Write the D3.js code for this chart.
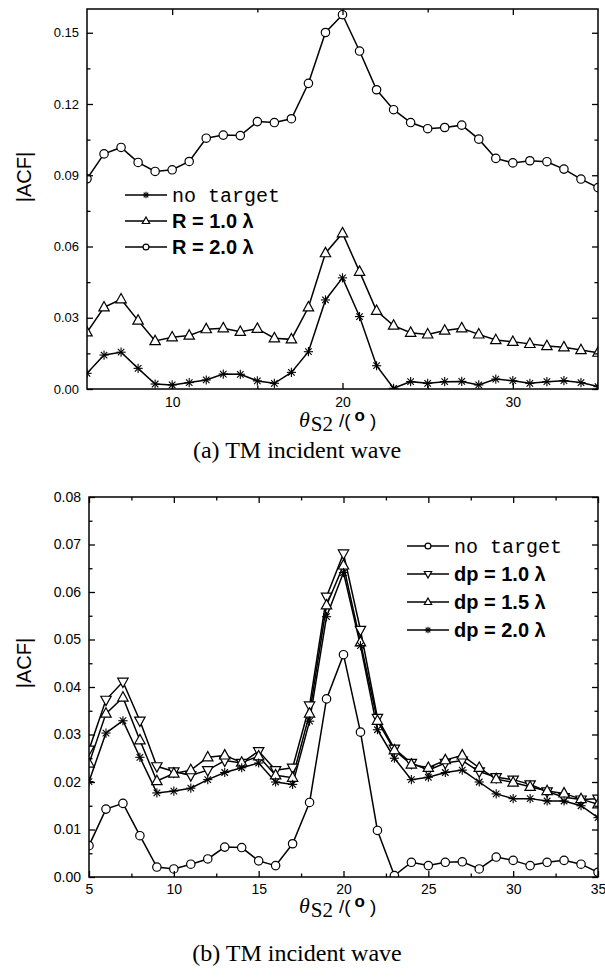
<!DOCTYPE html>
<html>
<head>
<meta charset="utf-8">
<script src="https://cdn.jsdelivr.net/npm/d3@7"></script>
<style>
  body { margin: 0; background: #fff; }
  svg { display: block; }
</style>
</head>
<body>
<div id="chart"></div>
<script>
// scattering angle, degrees
const thetaS2 = [5, 6, 7, 8, 9, 10, 11, 12, 13, 14, 15, 16, 17, 18, 19, 20,
                 21, 22, 23, 24, 25, 26, 27, 28, 29, 30, 31, 32, 33, 34, 35];

// (a) TM incident wave
const noTarget = [0.0066, 0.0143, 0.0155, 0.0087, 0.0021, 0.0017, 0.0027, 0.0038, 0.0063, 0.0062, 0.0034,
                  0.0024, 0.0070, 0.0157, 0.0375, 0.0468, 0.0305, 0.0098, 0.0003, 0.0031, 0.0024, 0.0031,
                  0.0032, 0.0017, 0.0042, 0.0035, 0.0024, 0.0031, 0.0035, 0.0027, 0.0010];
const r10 = [0.0239, 0.0344, 0.0378, 0.0288, 0.0202, 0.0218, 0.0225, 0.0252, 0.0256, 0.0241, 0.0254,
             0.0214, 0.0209, 0.0344, 0.0572, 0.0656, 0.0494, 0.0329, 0.0267, 0.0237, 0.0230, 0.0246,
             0.0256, 0.0230, 0.0206, 0.0199, 0.0190, 0.0181, 0.0176, 0.0164, 0.0153];
const r20 = [0.0885, 0.0990, 0.1017, 0.0954, 0.0916, 0.0923, 0.0958, 0.1056, 0.1069, 0.1067, 0.1126,
             0.1122, 0.1138, 0.1287, 0.1501, 0.1576, 0.1423, 0.1260, 0.1176, 0.1122, 0.1096, 0.1101,
             0.1111, 0.1052, 0.0971, 0.0952, 0.0961, 0.0957, 0.0926, 0.0884, 0.0848];

// (b) TM incident wave
const noTargetB = noTarget;
const dp10 = [0.0268, 0.0373, 0.0411, 0.0329, 0.0233, 0.0222, 0.0214, 0.0225, 0.0245, 0.0240, 0.0265,
              0.0225, 0.0230, 0.0361, 0.0590, 0.0681, 0.0520, 0.0335, 0.0270, 0.0240, 0.0225, 0.0240,
              0.0245, 0.0222, 0.0210, 0.0205, 0.0195, 0.0180, 0.0168, 0.0163, 0.0165];
const dp15 = r10;
const dp20 = [0.0201, 0.0303, 0.0329, 0.0252, 0.0177, 0.0181, 0.0187, 0.0205, 0.0220, 0.0230, 0.0240,
              0.0200, 0.0195, 0.0328, 0.0548, 0.0641, 0.0487, 0.0310, 0.0250, 0.0205, 0.0210, 0.0220,
              0.0225, 0.0200, 0.0175, 0.0165, 0.0165, 0.0160, 0.0160, 0.0150, 0.0125];

const yTicksA = [0, 0.03, 0.06, 0.09, 0.12, 0.15];
const yMinorA = [0.015, 0.045, 0.075, 0.105, 0.135];
const xTicksA = [10, 20, 30];
const xMinorA = [15, 25];
const yTicksB = [0, 0.01, 0.02, 0.03, 0.04, 0.05, 0.06, 0.07, 0.08];
const yMinorB = [0.005, 0.015, 0.025, 0.035, 0.045, 0.055, 0.065, 0.075];
const xTicksB = [5, 10, 15, 20, 25, 30, 35];
const xMinorB = [7.5, 12.5, 17.5, 22.5, 27.5, 32.5];

const svg = d3.select("#chart").append("svg")
    .attr("width", 605)
    .attr("height", 978);

const SANS = "'Liberation Sans', Arial, sans-serif";
const SERIF = "'Liberation Serif', 'Times New Roman', serif";
const MONO = "'Liberation Mono', 'Courier New', monospace";

function drawMarker(g, type, cx, cy, s) {
    s = s || 1;
    if (type === "circle") {
        g.append("circle").attr("cx", cx).attr("cy", cy).attr("r", 4.2 * s)
            .attr("fill", "#fff").attr("stroke", "#000").attr("stroke-width", 1.2);
    } else if (type === "tri" || type === "triDown") {
        const k = type === "tri" ? 1 : -1;
        const pts = [[0, -5.8 * k], [5.2, 3.6 * k], [-5.2, 3.6 * k]]
            .map(p => [cx + p[0] * s, cy + p[1] * s].join(",")).join(" ");
        g.append("polygon").attr("points", pts)
            .attr("fill", "#fff").attr("stroke", "#000").attr("stroke-width", 1.2);
    } else if (type === "star") {
        const r = 4.6 * s;
        [0, 45, 90, 135].forEach(a => {
            const dx = r * Math.cos(a * Math.PI / 180), dy = r * Math.sin(a * Math.PI / 180);
            g.append("line").attr("x1", cx - dx).attr("y1", cy - dy)
                .attr("x2", cx + dx).attr("y2", cy + dy)
                .attr("stroke", "#000").attr("stroke-width", 1.1);
        });
    }
}

function drawPanel(p) {
    const x = d3.scaleLinear().domain([5, 35]).range([p.left, p.right]);
    const y = d3.scaleLinear().domain([0, p.yMax]).range([p.bottom, p.top]);

    const clipId = "clip" + p.id;
    svg.append("clipPath").attr("id", clipId)
        .append("rect").attr("x", p.left).attr("y", p.top)
        .attr("width", p.right - p.left).attr("height", p.bottom - p.top);

    const plot = svg.append("g").attr("clip-path", "url(#" + clipId + ")");

    const line = d3.line()
        .x((d, i) => x(thetaS2[i]))
        .y(d => y(d));

    p.series.forEach(s => {
        plot.append("path")
            .datum(s.values)
            .attr("fill", "none")
            .attr("stroke", "#000")
            .attr("stroke-width", 1.5)
            .attr("d", line);
    });
    p.series.forEach(s => {
        const mg = plot.append("g");
        s.values.forEach((v, i) => drawMarker(mg, s.marker, x(thetaS2[i]), y(v)));
    });

    // axes, ticks pointing inward on all four sides
    function styleAxis(g) {
        g.select(".domain").remove();
        g.selectAll("line").attr("stroke", "#000").attr("stroke-width", 1.3);
        g.selectAll("text").attr("fill", "#000").attr("font-family", SANS);
    }
    svg.append("g").attr("transform", "translate(" + p.left + ",0)")
        .call(d3.axisLeft(y).tickValues(p.yTicks).tickSize(-6).tickPadding(p.yPad).tickFormat(d3.format(".2f")))
        .call(styleAxis)
        .selectAll("text").attr("font-size", p.yFont);
    svg.append("g").attr("transform", "translate(" + p.left + ",0)")
        .call(d3.axisLeft(y).tickValues(p.yMinor).tickSize(-3.5).tickFormat(""))
        .call(styleAxis);
    svg.append("g").attr("transform", "translate(" + p.right + ",0)")
        .call(d3.axisRight(y).tickValues(p.yTicks).tickSize(-6).tickFormat(""))
        .call(styleAxis);
    svg.append("g").attr("transform", "translate(" + p.right + ",0)")
        .call(d3.axisRight(y).tickValues(p.yMinor).tickSize(-3.5).tickFormat(""))
        .call(styleAxis);
    svg.append("g").attr("transform", "translate(0," + p.bottom + ")")
        .call(d3.axisBottom(x).tickValues(p.xTicks).tickSize(-6).tickPadding(p.xPad).tickFormat(d3.format("d")))
        .call(styleAxis)
        .selectAll("text").attr("font-size", p.xFont);
    svg.append("g").attr("transform", "translate(0," + p.bottom + ")")
        .call(d3.axisBottom(x).tickValues(p.xMinor).tickSize(-3.5).tickFormat(""))
        .call(styleAxis);
    svg.append("g").attr("transform", "translate(0," + p.top + ")")
        .call(d3.axisTop(x).tickValues(p.xTicks).tickSize(-6).tickFormat(""))
        .call(styleAxis);
    svg.append("g").attr("transform", "translate(0," + p.top + ")")
        .call(d3.axisTop(x).tickValues(p.xMinor).tickSize(-3.5).tickFormat(""))
        .call(styleAxis);

    svg.append("rect")
        .attr("x", p.left).attr("y", p.top)
        .attr("width", p.right - p.left).attr("height", p.bottom - p.top)
        .attr("fill", "none").attr("stroke", "#000").attr("stroke-width", 1.5);

    // y label
    svg.append("text")
        .attr("transform", "translate(" + 31 + "," + p.yLabelY + ") rotate(-90)")
        .attr("text-anchor", "middle")
        .attr("font-family", SANS).attr("font-size", 20)
        .text("|ACF|");

    // x label: θS2 /( o )
    const xl = svg.append("text")
        .attr("x", 299).attr("y", p.xLabelY)
        .attr("font-size", 22);
    xl.append("tspan").attr("font-family", SERIF).attr("font-style", "italic").text("θ");
    xl.append("tspan").attr("font-family", SERIF).attr("font-size", 21).attr("dy", 4).attr("dx", 1).text("S2");
    xl.append("tspan").attr("font-family", SANS).attr("font-size", 19).attr("dy", -4).attr("dx", 6).text("/(");
    xl.append("tspan").attr("font-family", SANS).attr("font-size", 17).attr("font-weight", "bold").attr("dy", -6).attr("dx", 4).text("o");
    xl.append("tspan").attr("font-family", SANS).attr("font-size", 19).attr("dy", 6).attr("dx", 5).text(")");

    // caption
    svg.append("text")
        .attr("x", 297).attr("y", p.captionY)
        .attr("text-anchor", "middle")
        .attr("font-family", SERIF).attr("font-size", 24)
        .text(p.caption);

    // legend
    const lg = svg.append("g");
    p.series.forEach((s, i) => {
        const ly = p.legY + i * p.legStep;
        lg.append("line")
            .attr("x1", p.legX).attr("x2", p.legX + 42)
            .attr("y1", ly).attr("y2", ly)
            .attr("stroke", "#000").attr("stroke-width", 1.5);
        drawMarker(lg, s.marker, p.legX + 21, ly, 0.7);
        lg.append("text")
            .attr("x", p.legX + 47).attr("y", ly).attr("dy", "0.35em")
            .attr("font-family", s.mono ? MONO : SANS)
            .attr("font-weight", s.mono ? "normal" : "bold")
            .attr("font-size", 20)
            .text(s.name);
    });
}

drawPanel({
    id: "a", left: 87, right: 598, top: 9, bottom: 389, yMax: 0.16,
    yTicks: yTicksA, yMinor: yMinorA, xTicks: xTicksA, xMinor: xMinorA,
    yPad: 8, xPad: 8, yFont: 13, xFont: 14,
    yLabelY: 177, xLabelY: 427, captionY: 458, caption: "(a) TM incident wave",
    legX: 125, legY: 195, legStep: 26,
    series: [
        { name: "no target", values: noTarget, marker: "star", mono: true },
        { name: "R = 1.0 λ", values: r10, marker: "tri" },
        { name: "R = 2.0 λ", values: r20, marker: "circle" }
    ]
});

drawPanel({
    id: "b", left: 89, right: 598, top: 497, bottom: 877, yMax: 0.08,
    yTicks: yTicksB, yMinor: yMinorB, xTicks: xTicksB, xMinor: xMinorB,
    yPad: 8, xPad: 7, yFont: 14, xFont: 14,
    yLabelY: 663, xLabelY: 913, captionY: 961, caption: "(b) TM incident wave",
    legX: 407, legY: 546, legStep: 28,
    series: [
        { name: "no target", values: noTargetB, marker: "circle", mono: true },
        { name: "dp = 1.0 λ", values: dp10, marker: "triDown" },
        { name: "dp = 1.5 λ", values: dp15, marker: "tri" },
        { name: "dp = 2.0 λ", values: dp20, marker: "star" }
    ]
});
</script>
</body>
</html>
